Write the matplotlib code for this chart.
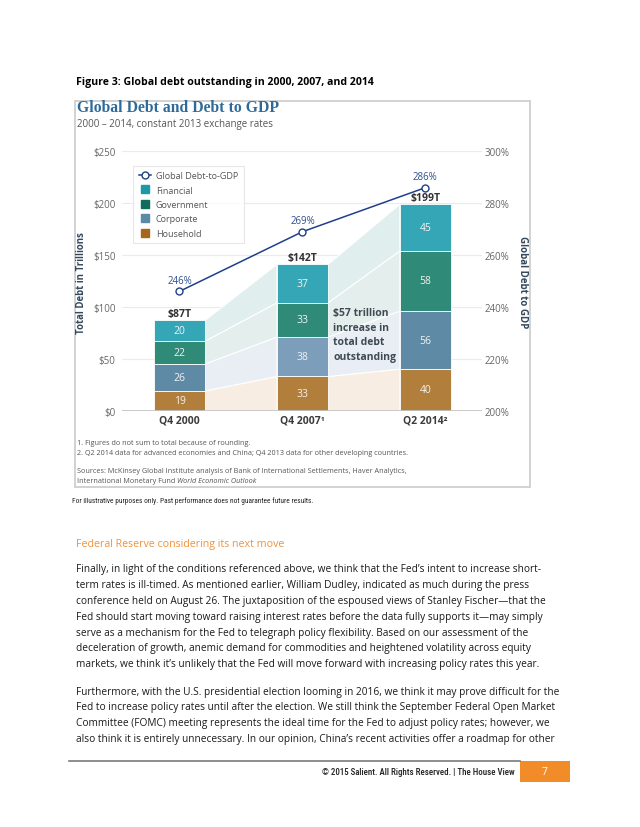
import matplotlib.pyplot as plt
from matplotlib.patches import Rectangle, Polygon
from matplotlib.lines import Line2D

# Data
periods = ['Q4 2000', 'Q4 2007¹', 'Q2 2014²']
household = [19, 33, 40]
corporate = [26, 38, 56]
government = [22, 33, 58]
financial = [20, 37, 45]
totals = ['$87T', '$142T', '$199T']
debt_to_gdp = [246, 269, 286]

body_p1 = [
    "Finally, in light of the conditions referenced above, we think that the Fed’s intent to increase short-",
    "term rates is ill-timed. As mentioned earlier, William Dudley, indicated as much during the press",
    "conference held on August 26. The juxtaposition of the espoused views of Stanley Fischer—that the",
    "Fed should start moving toward raising interest rates before the data fully supports it—may simply",
    "serve as a mechanism for the Fed to telegraph policy flexibility. Based on our assessment of the",
    "deceleration of growth, anemic demand for commodities and heightened volatility across equity",
    "markets, we think it’s unlikely that the Fed will move forward with increasing policy rates this year.",
]
body_p2 = [
    "Furthermore, with the U.S. presidential election looming in 2016, we think it may prove difficult for the",
    "Fed to increase policy rates until after the election. We still think the September Federal Open Market",
    "Committee (FOMC) meeting represents the ideal time for the Fed to adjust policy rates; however, we",
    "also think it is entirely unnecessary. In our opinion, China’s recent activities offer a roadmap for other",
]

plt.rcParams['font.family'] = ['Open Sans', 'DejaVu Sans']

W, H = 640, 828
fig = plt.figure(figsize=(6.4, 8.28), dpi=100)


def fx(px):
    return px / W


def fy(py):
    return 1 - py / H


# Colores
c_fin, c_gov, c_hh = '#34a6b6', '#2f8a78', '#b17e3c'
c_corp = ['#5f8aa6', '#7c9eba', '#5f8aa6']
band_cols = ['#f7ede2', '#e8eef3', '#e4eeec', '#e1eeee']
line_col = '#1f3f8a'
grey = '#666666'

# Ejes principales
ax = fig.add_axes([fx(121.7), fy(411.7), fx(482) - fx(121.7), fy(152.3) - fy(411.7)])
ax.set_xlim(-0.47, 2.46)
ax.set_ylim(0, 250)
for s in ax.spines.values():
    s.set_visible(False)

for v in [50, 100, 150, 200, 250]:
    ax.axhline(v, color='#ebebeb', lw=0.8, zorder=0)
ax.axhline(0, color='#c4c4c4', lw=2, zorder=5)

x = [0, 1, 2]
w = 0.415
segs = [household, corporate, government, financial]

# Bandas entre barras
for i in range(2):
    xr = x[i] + w / 2
    xl = x[i + 1] - w / 2
    b0 = b1 = 0
    for k, s in enumerate(segs):
        t0 = b0 + s[i]
        t1 = b1 + s[i + 1]
        ax.add_patch(Polygon([(xr, b0), (xl, b1), (xl, t1), (xr, t0)], closed=True,
                             fc=band_cols[k], ec='white', lw=0.8, zorder=1))
        b0, b1 = t0, t1

# Barras apiladas
for i in x:
    cols = [c_hh, c_corp[i], c_gov, c_fin]
    bottom = 0
    for k, s in enumerate(segs):
        ax.bar(i, s[i], w, bottom=bottom, color=cols[k], edgecolor='white', lw=0.6, zorder=2)
        ax.text(i, bottom + s[i] / 2, str(s[i]), ha='center', va='center',
                color='#f2f2f2', fontsize=7.5, zorder=3)
        bottom += s[i]
    ax.annotate(totals[i], (i, bottom), xytext=(0, 0.8), textcoords='offset points',
                ha='center', va='bottom', fontsize=7.5, fontweight='bold', color='#333333')

ax.set_yticks([0, 50, 100, 150, 200, 250])
ax.set_yticklabels(['$0', '$50', '$100', '$150', '$200', '$250'])
ax.tick_params(axis='y', length=0, pad=4.5, labelsize=7, labelcolor=grey)
ax.set_xticks(x)
ax.set_xticklabels(periods, fontweight='bold', color='#3c3c3c', fontsize=7.5)
ax.tick_params(axis='x', length=0, pad=2.5)

# Eje derecho: deuda / PIB
ax2 = ax.twinx()
ax2.set_ylim(200, 300)
for s in ax2.spines.values():
    s.set_visible(False)
ax2.set_yticks([200, 220, 240, 260, 280, 300])
ax2.set_yticklabels([f'{v}%' for v in [200, 220, 240, 260, 280, 300]])
ax2.tick_params(axis='y', length=0, pad=2, labelsize=7, labelcolor=grey)
ax2.plot(x, debt_to_gdp, color=line_col, lw=1.1, marker='o', ms=5,
         mfc='white', mec=line_col, mew=1, zorder=6)
for i, v in zip(x, debt_to_gdp):
    ax2.annotate(f'{v}%', (i, v), xytext=(0, 4), textcoords='offset points',
                 ha='center', va='bottom', fontsize=7, color='#2c4f8e')

fig.text(fx(333), fy(335.5), '$57 trillion\nincrease in\ntotal debt\noutstanding',
         ha='left', va='center', fontsize=7.5, fontweight='bold', color='#3f4a52',
         linespacing=1.45)

fig.text(fx(82), fy(283), 'Total Debt in Trillions', rotation=90, ha='center', va='center',
         fontsize=6.9, fontweight='bold', color='#34495e')
fig.text(fx(523), fy(282), 'Global Debt to GDP', rotation=270, ha='center', va='center',
         fontsize=7, fontweight='bold', color='#34495e')

# Leyenda
handles = [
    Line2D([], [], color=line_col, lw=1.1, marker='o', ms=5, mfc='white', mec=line_col),
    Line2D([], [], ls='none', marker='s', ms=6, mfc='#1c98a7', mec='#1c98a7'),
    Line2D([], [], ls='none', marker='s', ms=6, mfc='#0f6d5c', mec='#0f6d5c'),
    Line2D([], [], ls='none', marker='s', ms=6, mfc='#5b8aa6', mec='#5b8aa6'),
    Line2D([], [], ls='none', marker='s', ms=6, mfc='#a8661d', mec='#a8661d'),
]
labels = ['Global Debt-to-GDP', 'Financial', 'Government', 'Corporate', 'Household']
leg = fig.legend(handles, labels, loc='upper left', bbox_to_anchor=(fx(133.3), fy(166.7)),
                 bbox_transform=fig.transFigure, frameon=True, fancybox=False,
                 edgecolor='#e2e2e2', fontsize=6.5, labelspacing=0.6, handlelength=1.4,
                 handletextpad=0.5, borderpad=0.6, borderaxespad=0, labelcolor='#555555')
leg.get_frame().set_linewidth(0.8)

# Marco del grafico
fig.add_artist(Rectangle((fx(75), fy(487.7)), fx(529.5) - fx(75), fy(101.7) - fy(487.7),
                         transform=fig.transFigure, fill=False, ec='#cfcfcf', lw=1.3))

fig.text(fx(75.7), fy(82.7), 'Figure 3: Global debt outstanding in 2000, 2007, and 2014',
         ha='left', va='center', fontsize=7.6, fontweight='bold', color='black')
fig.text(fx(76.7), fy(108), 'Global Debt and Debt to GDP', family='Liberation Serif',
         ha='left', va='center', fontsize=11.3, fontweight='bold', color='#2e6a99')
fig.text(fx(76.7), fy(124), '2000 – 2014, constant 2013 exchange rates',
         ha='left', va='center', fontsize=7, color='#555555')

# Notas
note_fs = 5.25
fig.text(fx(76.7), fy(443.3), '1. Figures do not sum to total because of rounding.',
         ha='left', va='center', fontsize=note_fs, color='#555555')
fig.text(fx(76.7), fy(454), '2. Q2 2014 data for advanced economies and China; Q4 2013 data for other developing countries.',
         ha='left', va='center', fontsize=note_fs, color='#555555')
fig.text(fx(76.7), fy(471.7), 'Sources: McKinsey Global Institute analysis of Bank of International Settlements, Haver Analytics,',
         ha='left', va='center', fontsize=note_fs, color='#555555')
t_src = fig.text(fx(76.7), fy(482), 'International Monetary Fund',
                 ha='left', va='center', fontsize=note_fs, color='#555555')
ax.annotate('World Economic Outlook', xy=(1, 0.5), xycoords=t_src, xytext=(1.5, 0),
            textcoords='offset points', ha='left', va='center', fontsize=note_fs,
            style='italic', color='#555555', annotation_clip=False)

narrow = ['Roboto Condensed', 'Roboto', 'DejaVu Sans']
fig.text(fx(71.7), fy(500.7), 'For illustrative purposes only. Past performance does not guarantee future results.',
         family=narrow, ha='left', va='center', fontsize=5.3, color='#222222')

# Texto del documento
fig.text(fx(75.7), fy(545), 'Federal Reserve considering its next move',
         ha='left', va='center', fontsize=7.7, color='#f0913a')
for k, line in enumerate(body_p1):
    fig.text(fx(75.7), fy(570 + 15.8 * k), line, ha='left', va='center',
             fontsize=7.3, color='#1a1a1a')
for k, line in enumerate(body_p2):
    fig.text(fx(75.7), fy(692.3 + 15.7 * k), line, ha='left', va='center',
             fontsize=7.3, color='#1a1a1a')

# Pie de pagina
fig.add_artist(Line2D([fx(69), fx(520)], [fy(761.7), fy(761.7)], transform=fig.transFigure,
                      color='#7a7a7a', lw=1.2))
fig.add_artist(Rectangle((fx(520), fy(783.3)), fx(570) - fx(520), fy(761.7) - fy(783.3),
                         transform=fig.transFigure, fc='#f28c28', ec='none'))
fig.text(fx(545), fy(772.5), '7', ha='center', va='center', fontsize=7.5, color='white')
fig.text(fx(515), fy(772.5), '© 2015 Salient. All Rights Reserved. | The House View',
         family=narrow, ha='right', va='center', fontsize=6.4, fontweight='medium',
         color='#222222')

fig.savefig('out.png', dpi=100, facecolor='white')
